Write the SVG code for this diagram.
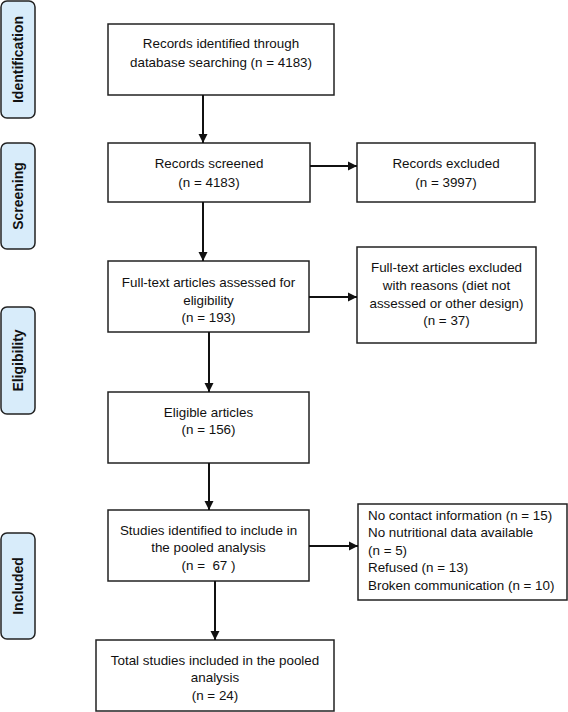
<svg xmlns="http://www.w3.org/2000/svg" width="568" height="712" viewBox="0 0 568 712">
<defs>
<marker id="ah" markerWidth="10" markerHeight="10" refX="9" refY="5" orient="auto" markerUnits="userSpaceOnUse">
<path d="M0,0.5 L9,5 L0,9.5 Z" fill="#111"/>
</marker>
<style>
.box{fill:#fff;stroke:#222;stroke-width:1.5}
.side{fill:#d8ecfa;stroke:#222;stroke-width:1.5}
.t{font-family:"Liberation Sans",Arial,sans-serif;font-size:13.4px;fill:#111;text-anchor:middle}
.tl{font-family:"Liberation Sans",Arial,sans-serif;font-size:13.4px;fill:#111}
.s{font-family:"Liberation Sans",Arial,sans-serif;font-size:14px;font-weight:bold;fill:#111;text-anchor:middle}
.c{stroke:#111;stroke-width:2;fill:none;marker-end:url(#ah)}
</style>
</defs>
<rect width="568" height="712" fill="#fff"/>
<g id="stage-identification"><rect class="side" x="1" y="1" width="34" height="117" rx="6"/><text class="s" transform="translate(23,59.5) rotate(-90)">Identification</text></g>
<g id="stage-screening"><rect class="side" x="1" y="143" width="34" height="106" rx="6"/><text class="s" transform="translate(23,196) rotate(-90)">Screening</text></g>
<g id="stage-eligibility"><rect class="side" x="1" y="307" width="34" height="107" rx="6"/><text class="s" transform="translate(23,360.5) rotate(-90)">Eligibility</text></g>
<g id="stage-included"><rect class="side" x="1" y="533" width="34" height="106" rx="6"/><text class="s" transform="translate(23,586) rotate(-90)">Included</text></g>

<g id="n1"><rect class="box" x="108" y="24" width="226" height="71"/>
<text class="t" x="221" y="48">Records identified through</text>
<text class="t" x="221" y="66.5">database searching (n = 4183)</text></g>

<g id="n2"><rect class="box" x="108" y="143" width="202" height="59"/>
<text class="t" x="209" y="168">Records screened</text>
<text class="t" x="209" y="187">(n = 4183)</text></g>

<g id="n3"><rect class="box" x="357" y="143" width="178" height="59"/>
<text class="t" x="446" y="168">Records excluded</text>
<text class="t" x="446" y="187">(n = 3997)</text></g>

<g id="n4"><rect class="box" x="108" y="261" width="201" height="71"/>
<text class="t" x="208.5" y="287">Full-text articles assessed for</text>
<text class="t" x="208.5" y="304.5">eligibility</text>
<text class="t" x="208.5" y="322">(n = 193)</text></g>

<g id="n5"><rect class="box" x="357" y="247" width="179" height="96"/>
<text class="t" x="446.5" y="272">Full-text articles excluded</text>
<text class="t" x="446.5" y="290">with reasons (diet not</text>
<text class="t" x="446.5" y="308">assessed or other design)</text>
<text class="t" x="446.5" y="325">(n = 37)</text></g>

<g id="n6"><rect class="box" x="108" y="392" width="201" height="71"/>
<text class="t" x="208.5" y="417">Eligible articles</text>
<text class="t" x="208.5" y="434">(n = 156)</text></g>

<g id="n7"><rect class="box" x="108" y="510" width="201" height="71"/>
<text class="t" x="208.5" y="535">Studies identified to include in</text>
<text class="t" x="208.5" y="552">the pooled analysis</text>
<text class="t" x="208.5" y="570" xml:space="preserve">(n =  67 )</text></g>

<g id="n8"><rect class="box" x="358" y="504" width="209" height="96"/>
<text class="tl" x="368" y="520">No contact information (n = 15)</text>
<text class="tl" x="368" y="537">No nutritional data available</text>
<text class="tl" x="368" y="555">(n = 5)</text>
<text class="tl" x="368" y="572">Refused (n = 13)</text>
<text class="tl" x="368" y="590">Broken communication (n = 10)</text></g>

<g id="n9"><rect class="box" x="96" y="640" width="238" height="71"/>
<text class="t" x="215" y="665">Total studies included in the pooled</text>
<text class="t" x="215" y="682">analysis</text>
<text class="t" x="215" y="700">(n = 24)</text></g>

<g id="connectors">
<line class="c" x1="203" y1="95" x2="203" y2="143"/>
<line class="c" x1="203" y1="202" x2="203" y2="261"/>
<line class="c" x1="310" y1="166" x2="357" y2="166"/>
<line class="c" x1="309" y1="297" x2="357" y2="297"/>
<line class="c" x1="209" y1="332" x2="209" y2="392"/>
<line class="c" x1="209" y1="463" x2="209" y2="510"/>
<line class="c" x1="309" y1="546" x2="358" y2="546"/>
<line class="c" x1="215" y1="581" x2="215" y2="640"/>
</g>
</svg>
